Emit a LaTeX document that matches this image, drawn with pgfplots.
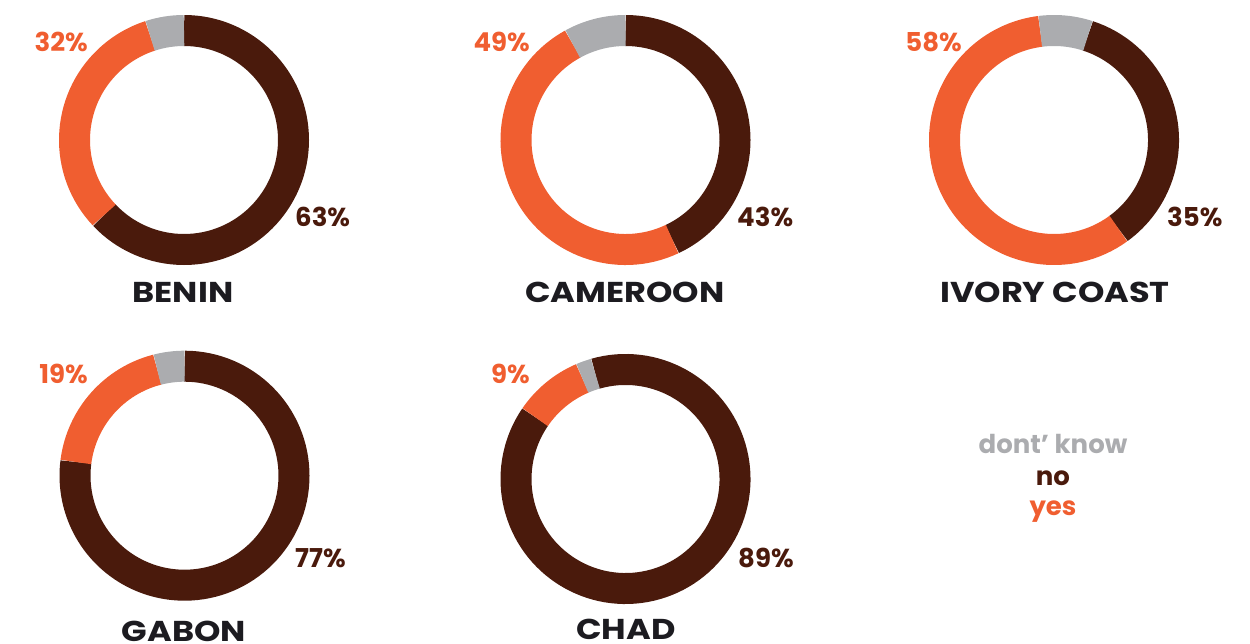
\documentclass[border=0pt]{standalone}
\usepackage{pgfplots}
\pgfplotsset{compat=1.18}
\usepackage{fontspec}
\setmainfont{Poppins}
\newfontfamily\namefont{Poppins}[FakeStretch=1.17]
\definecolor{nocol}{HTML}{4A1A0C}
\definecolor{yescol}{HTML}{F05E30}
\definecolor{dkcol}{HTML}{ABACAF}
\definecolor{namecol}{HTML}{1C1B20}

\tikzset{
  pct/.style={font=\fontsize{26}{28}\selectfont\bfseries, inner sep=0pt},
  nm/.style={font=\namefont\fontsize{28.7}{30}\selectfont\bfseries, inner sep=0pt, text=namecol, anchor=base},
  lg/.style={font=\fontsize{26}{28}\selectfont\bfseries, inner sep=0pt, anchor=base},
  seg/.style={line width=31pt},
}

\begin{document}
\begin{tikzpicture}
\begin{axis}[
  at={(0,0)}, anchor=south west,
  scale only axis, width=1250pt, height=644pt,
  xmin=0, xmax=1250, ymin=0, ymax=644, y dir=reverse,
  hide axis, clip=false,
]
% cx, cy: centre of each donut (px, y downwards); rot: angle where "no" starts (deg, clockwise from top)
\addplot[scatter, only marks, mark=*, mark size=0pt,
    mark options={draw=white, fill=white},
    visualization depends on={value \thisrow{rot}\as\rot},
    visualization depends on={value \thisrow{pno}\as\pno},
    visualization depends on={value \thisrow{pyes}\as\pyes},
    visualization depends on={value \thisrow{pdk}\as\pdk},
    scatter/@post marker code/.code={},
    scatter/@pre marker code/.code={%
      \pgfmathsetmacro\sa{90-\rot}\pgfmathsetmacro\da{-3.6*\pno}%
      \draw[seg, draw=nocol] (\sa:109.5pt) arc[start angle=\sa, delta angle=\da, radius=109.5pt];
      \pgfmathsetmacro\sb{\sa+\da}\pgfmathsetmacro\db{-3.6*\pyes}%
      \draw[seg, draw=yescol] (\sb:109.5pt) arc[start angle=\sb, delta angle=\db, radius=109.5pt];
      \pgfmathsetmacro\sc{\sb+\db}\pgfmathsetmacro\dc{-3.6*\pdk}%
      \draw[seg, draw=dkcol] (\sc:109.5pt) arc[start angle=\sc, delta angle=\dc, radius=109.5pt];
    }]
  table[x=cx, y=cy] {
cx    cy    rot pno pyes pdk
184   140   0   63  32   5
625.5 140   0   43  49   8
1054  140   18  35  58   7
184.5 475.7 0   77  19   4
625.5 479   -16 89  9    2
};

% percentage labels
\node[pct, text=yescol, anchor=base east] at (axis cs:88,52) {32\%};
\node[pct, text=nocol, anchor=base west] at (axis cs:295,227) {63\%};
\node[pct, text=yescol, anchor=base east] at (axis cs:530,52) {49\%};
\node[pct, text=nocol, anchor=base west] at (axis cs:737,227) {43\%};
\node[pct, text=yescol, anchor=base east] at (axis cs:962,52) {58\%};
\node[pct, text=nocol, anchor=base west] at (axis cs:1167,227) {35\%};
\node[pct, text=yescol, anchor=base east] at (axis cs:88,383) {19\%};
\node[pct, text=nocol, anchor=base west] at (axis cs:295,567) {77\%};
\node[pct, text=yescol, anchor=base east] at (axis cs:530,383) {9\%};
\node[pct, text=nocol, anchor=base west] at (axis cs:738,567) {89\%};

% country names
\node[nm] at (axis cs:183,302) {BENIN};
\node[nm] at (axis cs:625,302) {CAMEROON};
\node[nm] at (axis cs:1055,302) {IVORY COAST};
\node[nm] at (axis cs:184,641) {GABON};
\node[nm] at (axis cs:626,639) {CHAD};

% legend
\node[lg, text=dkcol] at (axis cs:1053,453) {dont’ know};
\node[lg, text=nocol] at (axis cs:1053,485) {no};
\node[lg, text=yescol] at (axis cs:1053,515) {yes};
\end{axis}
\pgfresetboundingbox
\useasboundingbox (0,0) rectangle (1250pt,644pt);
\end{tikzpicture}
\end{document}
